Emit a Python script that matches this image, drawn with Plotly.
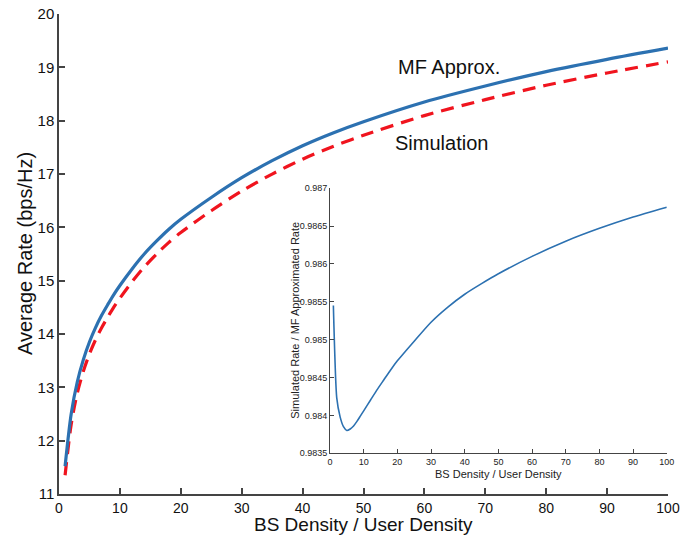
import plotly.graph_objects as go

# BS density / user density (x)
density = [1, 2, 3, 4, 5, 6, 7, 8, 9, 10, 12, 14, 16, 18, 20, 25, 30, 35, 40, 45, 50, 60, 70, 80, 90, 100]

# MF approximation of average rate (bps/Hz)
mf_approx = [11.52, 12.50, 13.10, 13.52, 13.85, 14.12, 14.35, 14.55, 14.74, 14.91,
             15.22, 15.50, 15.74, 15.96, 16.15, 16.56, 16.93, 17.25, 17.53, 17.77,
             17.98, 18.35, 18.65, 18.92, 19.15, 19.36]

# Simulated average rate (bps/Hz)
simulation = [11.352, 12.303, 12.890, 13.302, 13.626, 13.892, 14.118, 14.316, 14.504, 14.672,
              14.980, 15.257, 15.496, 15.714, 15.903, 16.311, 16.680, 16.999, 17.278, 17.517,
              17.726, 18.095, 18.394, 18.664, 18.894, 19.103]

# Simulated rate / MF approximated rate (inset)
ratio = [0.98545, 0.98423, 0.98398, 0.98385, 0.98380, 0.98382, 0.98386, 0.98392, 0.98399, 0.98406,
         0.98420, 0.98434, 0.98447, 0.98460, 0.98472, 0.98498, 0.98523, 0.98543, 0.98560, 0.98574,
         0.98587, 0.98610, 0.98630, 0.98647, 0.98662, 0.98675]

x_ticks = [0, 10, 20, 30, 40, 50, 60, 70, 80, 90, 100]
y_ticks = [11, 12, 13, 14, 15, 16, 17, 18, 19, 20]
inset_y_ticks = [0.9835, 0.984, 0.9845, 0.985, 0.9855, 0.986, 0.9865, 0.987]
inset_y_labels = ["0.9835", "0.984", "0.9845", "0.985", "0.9855", "0.986", "0.9865", "0.987"]

BLUE = "#2c71b1"
RED = "#f0141e"
AX = "#444444"
TXT = "#111111"
FONT = "Liberation Sans, Arial, Helvetica, sans-serif"

INSET_X = [0.445, 0.998]
INSET_Y = [0.085, 0.637]

fig = go.Figure()
fig.add_trace(go.Scatter(x=density, y=simulation, mode="lines",
                         line=dict(color=RED, width=3.2, dash="13px,8px", shape="spline", smoothing=0.8),
                         xaxis="x", yaxis="y", showlegend=False, hoverinfo="skip"))
fig.add_trace(go.Scatter(x=density, y=mf_approx, mode="lines",
                         line=dict(color=BLUE, width=3.2, shape="spline", smoothing=0.8),
                         xaxis="x", yaxis="y", showlegend=False, hoverinfo="skip"))
fig.add_trace(go.Scatter(x=density, y=ratio, mode="lines",
                         line=dict(color=BLUE, width=1.6, shape="spline", smoothing=0.6),
                         xaxis="x2", yaxis="y2", showlegend=False, hoverinfo="skip"))

common = dict(showline=True, linecolor=AX, showgrid=False, zeroline=False, ticks="inside",
              tickcolor=AX, automargin=False)

fig.update_layout(
    width=699, height=537,
    margin=dict(l=59, r=31, t=14, b=43),
    paper_bgcolor="white", plot_bgcolor="white",
    font=dict(family=FONT, color=TXT),
    xaxis=dict(range=[0, 100], tickvals=x_ticks, ticklen=6, tickwidth=1.5, linewidth=1.5,
               tickfont=dict(size=14, color=TXT), domain=[0, 1], **common),
    yaxis=dict(range=[11, 20], tickvals=y_ticks, ticklen=6, tickwidth=1.5, linewidth=1.5,
               tickfont=dict(size=15, color=TXT), domain=[0, 1], **common),
    xaxis2=dict(range=[0, 100], tickvals=x_ticks, ticklen=4, tickwidth=1, linewidth=1,
                tickfont=dict(size=9, color="#222222"), domain=INSET_X, anchor="y2", **common),
    yaxis2=dict(range=[0.9835, 0.987], tickvals=inset_y_ticks, ticktext=inset_y_labels, ticklen=4,
                tickwidth=1, linewidth=1, tickfont=dict(size=9, color="#222222"),
                domain=INSET_Y, anchor="x2", **common),
    annotations=[
        dict(x=55.3, y=19.0, xref="x", yref="y", text="MF Approx.", showarrow=False,
             xanchor="left", yanchor="middle", font=dict(size=20, color=TXT, family=FONT)),
        dict(x=54.8, y=17.59, xref="x", yref="y", text="Simulation", showarrow=False,
             xanchor="left", yanchor="middle", font=dict(size=20, color=TXT, family=FONT)),
        # main axis titles
        dict(x=0.5, y=0, xref="paper", yref="paper", yshift=-30.5, text="BS Density / User Density",
             showarrow=False, xanchor="center", yanchor="middle", borderpad=0,
             font=dict(size=19, color=TXT, family=FONT)),
        dict(x=0, y=0.5, xref="paper", yref="paper", xshift=-34, text="Average Rate (bps/Hz)", textangle=-90,
             showarrow=False, xanchor="center", yanchor="middle", font=dict(size=20, color=TXT, family=FONT)),
        # inset axis titles
        dict(x=(INSET_X[0] + INSET_X[1]) / 2, y=INSET_Y[0], xref="paper", yref="paper", yshift=-21,
             text="BS Density / User Density", showarrow=False, xanchor="center", yanchor="middle",
             font=dict(size=11, color="#222222", family=FONT)),
        dict(x=INSET_X[0], y=(INSET_Y[0] + INSET_Y[1]) / 2, xref="paper", yref="paper", xshift=-35,
             text="Simulated Rate / MF Approximated Rate", textangle=-90, showarrow=False,
             xanchor="center", yanchor="middle", font=dict(size=11, color="#222222", family=FONT)),
    ],
)

fig.write_html("out.html", config={"displayModeBar": False},
               post_script="document.body.style.margin='0';document.body.style.overflow='hidden';")
